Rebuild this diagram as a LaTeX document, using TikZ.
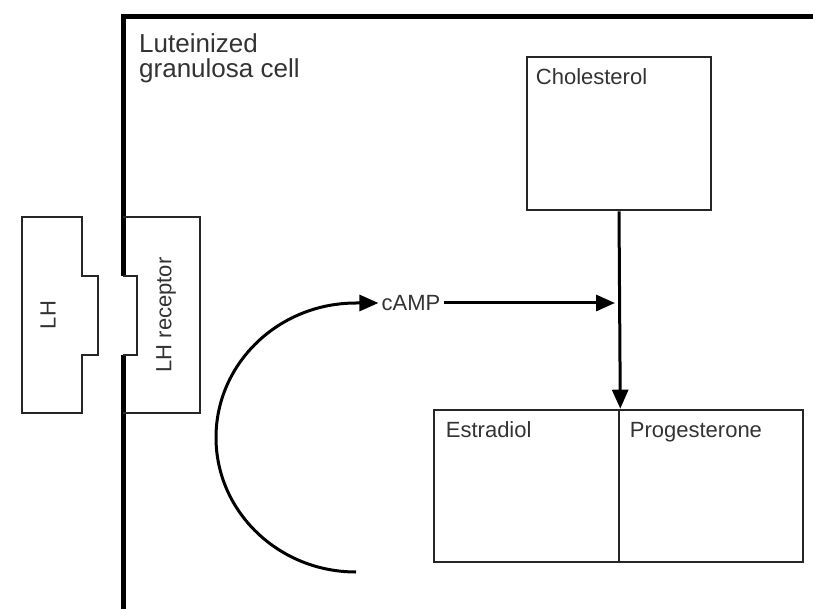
\documentclass[tikz,border=0pt]{standalone}
\usepackage{fontspec}
\setmainfont{Liberation Sans}
\usetikzlibrary{arrows.meta,positioning}
\tikzset{
    cell-box/.style = {draw=black!85, line width=2.6pt, rectangle, inner sep=0pt},
    box-label/.style = {text=black!80, font=\fontsize{22}{24}\selectfont, inner sep=0pt},
    membrane-line/.style = {draw=black, line width=5pt},
    thin-line/.style = {draw=black!85, line width=2.6pt, line join=miter},
    flow/.style = {draw=black, line width=3pt, -{Triangle[length=19pt,width=16pt]}},
}

\begin{document}
\begin{tikzpicture}[x=1pt, y=-1pt]
\useasboundingbox (0,0) rectangle (813,609);

% cell membrane
\draw[membrane-line] (123,609) -- (123,355);
\draw[membrane-line] (123,276) -- (123,17) -- (815,17);
\node[anchor=north west, align=left, text=black!80, font=\fontsize{26}{25}\selectfont, inner sep=0pt]
    (cell) at (139,33) {Luteinized\\granulosa cell};

% LH and its receptor
\draw[thin-line] (22,217) -- (82,217) -- (82,276) -- (98,276) -- (98,355) -- (82,355) -- (82,413) -- (22,413) -- cycle;
\node[box-label, rotate=90] (lh) at (48,315) {LH};
\draw[thin-line] (123,217) -- (200,217) -- (200,413) -- (123,413);
\draw[thin-line] (123,276) -- (137,276) -- (137,355) -- (123,355);
\node[box-label, rotate=90] (receptor) at (166,315) {LH receptor};

% steroid boxes
\node[cell-box, minimum width=184, minimum height=153] (chol) at (619,133.5) {};
\node[box-label, anchor=north west] at ([xshift=10pt, yshift=-13pt]chol.north west) {Cholesterol};
\node[cell-box, minimum width=185, minimum height=152] (estr) at (526.5,486) {};
\node[cell-box, minimum width=184, minimum height=152] (prog) at (711,486) {};
\node[box-label, anchor=north west] at ([xshift=13pt, yshift=-13pt]estr.north west) {Estradiol};
\node[box-label, anchor=north west] at ([xshift=12pt, yshift=-13pt]prog.north west) {Progesterone};

% signalling
\node[box-label, inner xsep=3pt] (camp) at (411,303) {cAMP};
\coordinate (loop) at (356,572);
\draw[flow] (loop) arc[start angle=90, end angle=270, x radius=140, y radius=134.5] -- (camp.west);
\draw[flow] (camp.east) -- ([xshift=-4pt]chol.south |- camp.east);
\draw[flow] (chol.south) -- (estr.north east);
\end{tikzpicture}
\end{document}
